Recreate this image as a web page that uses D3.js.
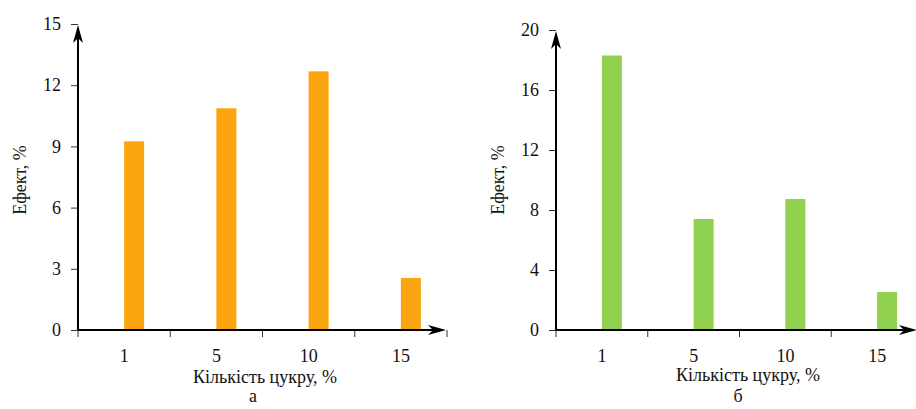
<!DOCTYPE html>
<html>
<head>
<meta charset="utf-8">
<script src="https://cdn.jsdelivr.net/npm/d3@7/dist/d3.min.js"></script>
<style>
  body { margin: 0; background: #fff; }
  svg text { font-family: "Liberation Serif", "Tinos", serif !important; }
</style>
</head>
<body>
<script>
// data
var sugar = ["1", "5", "10", "15"];
var effectA = [9.25, 10.87, 12.68, 2.55];
var effectB = [18.3, 7.4, 8.73, 2.53];
var ticksA = [0, 3, 6, 9, 12, 15];
var ticksB = [0, 4, 8, 12, 16, 20];

var svgWidth = 916;
var svgHeight = 409;
var fontName = "Liberation Serif";

var svg = d3.select("body")
  .append("svg")
  .attr("width", svgWidth)
  .attr("height", svgHeight);

function label(sel) {
  sel.style("font-family", fontName)
    .style("font-size", "18px")
    .attr("fill", "#111");
}

// one panel
function drawPanel(opt) {
  var g = svg.append("g");

  var x = d3.scaleBand()
    .domain(sugar)
    .range([opt.left, opt.right])
    .paddingInner(0)
    .paddingOuter(0);

  var y = d3.scaleLinear()
    .domain([0, opt.max])
    .range([opt.bottom, opt.top]);

  var barW = 20;

  // bars start at the middle of each band
  g.selectAll("rect.bar")
    .data(opt.values)
    .enter().append("rect")
    .attr("class", "bar")
    .attr("x", function(d, i) { return x(sugar[i]) + x.bandwidth() / 2; })
    .attr("y", function(d) { return y(d); })
    .attr("width", barW)
    .attr("height", function(d) { return y(0) - y(d); })
    .attr("fill", opt.color);

  // y axis ticks + labels
  var yAxis = d3.axisLeft(y)
    .tickValues(opt.ticks)
    .tickSize(7)
    .tickSizeOuter(0)
    .tickPadding(10);
  var ya = g.append("g")
    .attr("transform", "translate(" + opt.left + ",0)")
    .call(yAxis)
    .attr("font-family", fontName)
    .attr("font-size", 18);
  ya.select(".domain").remove();
  ya.selectAll("line").attr("stroke", "#333");
  ya.selectAll("text").call(label);

  // x axis labels at band centers
  var xAxis = d3.axisBottom(x).tickSize(0).tickPadding(19);
  var xa = g.append("g")
    .attr("transform", "translate(0," + opt.bottom + ")")
    .call(xAxis)
    .attr("font-family", fontName)
    .attr("font-size", 18);
  xa.select(".domain").remove();
  xa.selectAll("text").call(label);

  // x tick marks on band edges
  var edges = sugar.map(function(c) { return x(c); }).concat([opt.right]);
  g.selectAll("line.edge")
    .data(edges)
    .enter().append("line")
    .attr("class", "edge")
    .attr("x1", function(d) { return d; })
    .attr("x2", function(d) { return d; })
    .attr("y1", opt.bottom)
    .attr("y2", opt.bottom + 7)
    .attr("stroke", "#333");

  // axis lines with arrows
  g.append("line")
    .attr("x1", opt.left).attr("x2", opt.left)
    .attr("y1", opt.bottom).attr("y2", y(opt.max) + 4)
    .attr("stroke", "#000").attr("stroke-width", 2);
  g.append("line")
    .attr("x1", opt.left).attr("x2", opt.arrowX - 4)
    .attr("y1", opt.bottom).attr("y2", opt.bottom)
    .attr("stroke", "#000").attr("stroke-width", 2);

  var ty = y(opt.max) + 1;
  g.append("path")
    .attr("d", "M" + opt.left + "," + ty +
      " L" + (opt.left + 5) + "," + (ty + 18) +
      " L" + opt.left + "," + (ty + 13) +
      " L" + (opt.left - 5) + "," + (ty + 18) + " Z")
    .attr("fill", "#000");
  var tx = opt.arrowX;
  g.append("path")
    .attr("d", "M" + tx + "," + opt.bottom +
      " L" + (tx - 18) + "," + (opt.bottom - 5) +
      " L" + (tx - 13) + "," + opt.bottom +
      " L" + (tx - 18) + "," + (opt.bottom + 5) + " Z")
    .attr("fill", "#000");

  // titles
  g.append("text")
    .attr("transform", "translate(" + opt.yTitleX + "," + 180 + ") rotate(-90)")
    .attr("text-anchor", "middle")
    .attr("dy", "0.35em")
    .call(label)
    .text("Ефект, %");

  g.append("text")
    .attr("x", opt.xTitleX)
    .attr("y", opt.xTitleY)
    .attr("text-anchor", "middle")
    .call(label)
    .text("Кількість цукру, %");

  g.append("text")
    .attr("x", opt.subX)
    .attr("y", 402)
    .attr("text-anchor", "middle")
    .call(label)
    .text(opt.sub);
}

drawPanel({
  values: effectA, ticks: ticksA, max: 15, color: "#FBA511",
  left: 78, right: 447, top: 24, bottom: 330, arrowX: 446,
  yTitleX: 20, xTitleX: 265, xTitleY: 383, subX: 253, sub: "а"
});

drawPanel({
  values: effectB, ticks: ticksB, max: 20, color: "#92D050",
  left: 556, right: 923, top: 30, bottom: 330, arrowX: 917,
  yTitleX: 498, xTitleX: 748, xTitleY: 381, subX: 738, sub: "б"
});
</script>
</body>
</html>
